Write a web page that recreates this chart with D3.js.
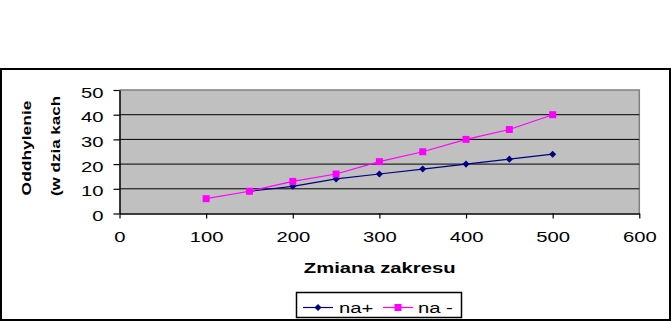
<!DOCTYPE html>
<html><head><meta charset="utf-8">
<script src="https://cdn.jsdelivr.net/npm/d3@7"></script>
<style>
html,body{margin:0;padding:0;background:#fff;}
svg{display:block;font-family:"Liberation Sans",Arial,sans-serif;}
</style></head>
<body><svg id="c" width="671" height="322"></svg>
<script>
const xTicks = [0,100,200,300,400,500,600];
const yTicks = [0,10,20,30,40,50];
const xPlus = [150,200,250,300,350,400,450,500];
const naPlus = [9,11,14,16,18,20,22,24];
const xMinus = [100,150,200,250,300,350,400,450,500];
const naMinus = [6,9,13,16,21,25,30,34,40];
const seriesNames = ["na+","na -"];
const xTitle = "Zmiana zakresu";
const yTitle = ["Oddhylenie","(w dzia kach"];

const svg = d3.select("#c");
const SX = 1.35;
const L=119.5, R=639.3, T=90, B=213.5;
const x = d3.scaleLinear().domain([0,600]).range([L,R]);
const y = d3.scaleLinear().domain([0,50]).range([B,T]);

// outer border
svg.append("rect").attr("x",1).attr("y",69).attr("width",669).attr("height",251)
  .attr("fill","#fff").attr("stroke","#000").attr("stroke-width",2);

// plot area
svg.append("rect").attr("x",L).attr("y",T).attr("width",R-L).attr("height",B-T)
  .attr("fill","#c0c0c0").attr("stroke","none");
svg.append("path").attr("d",`M${L},${T}H${R}V${B}`).attr("fill","none").attr("stroke","#808080").attr("stroke-width",1.5);

// gridlines
svg.append("g").selectAll("line").data(yTicks.filter(v=>v>0&&v<50)).join("line")
  .attr("x1",L).attr("x2",R).attr("y1",d=>y(d)).attr("y2",d=>y(d))
  .attr("stroke","#000").attr("stroke-width",1);

// axes
const ya = svg.append("g").attr("transform",`translate(${L},0)`)
  .call(d3.axisLeft(y).tickValues(yTicks).tickSize(6).tickSizeOuter(0));
ya.select(".domain").attr("stroke","#000").attr("stroke-width",1.5);
ya.selectAll(".tick line").attr("stroke","#000").attr("stroke-width",1.2);
ya.selectAll("text").attr("x",-16/SX).attr("dy",7).attr("transform",`scale(${SX},1)`)
  .attr("font-size",15).attr("fill","#000").attr("font-family","Liberation Sans, Arial, sans-serif");

const xa = svg.append("g").attr("transform",`translate(0,${B})`)
  .call(d3.axisBottom(x).tickValues(xTicks).tickSize(5).tickSizeOuter(0));
xa.select(".domain").attr("stroke","#000").attr("stroke-width",1.5);
xa.selectAll(".tick line").attr("stroke","#000").attr("stroke-width",1.2);
xa.selectAll("text").attr("y",29).attr("dy",0).attr("transform",`scale(${SX},1)`)
  .attr("font-size",15).attr("fill","#000").attr("font-family","Liberation Sans, Arial, sans-serif");

// lines
const line = d3.line().x(d=>x(d[0])).y(d=>y(d[1]));
const dPlus = xPlus.map((v,i)=>[v,naPlus[i]]);
const dMinus = xMinus.map((v,i)=>[v,naMinus[i]]);
svg.append("path").attr("d",line(dPlus)).attr("fill","none").attr("stroke","#000080").attr("stroke-width",1.2);
svg.append("path").attr("d",line(dMinus)).attr("fill","none").attr("stroke","#ff00ff").attr("stroke-width",1.2);

const diamond = d3.symbol(d3.symbolSquare, 25)();
const square = d3.symbol(d3.symbolSquare, 49)();
svg.append("g").selectAll("path").data(dPlus).join("path").attr("d",diamond)
  .attr("transform",d=>`translate(${x(d[0])},${y(d[1])}) rotate(45)`).attr("fill","#000080");
svg.append("g").selectAll("path").data(dMinus).join("path").attr("d",square)
  .attr("transform",d=>`translate(${x(d[0])},${y(d[1])})`).attr("fill","#ff00ff");

// x title
svg.append("text").attr("transform",`translate(379.7,272.7) scale(${SX},1)`)
  .attr("text-anchor","middle").attr("font-size",15).attr("font-weight","bold").text(xTitle);

// y title
svg.append("text").attr("transform",`translate(31,148) rotate(-90) scale(1.34,1)`)
  .attr("text-anchor","middle").attr("font-size",13).attr("font-weight","bold").text(yTitle[0]);
svg.append("text").attr("transform",`translate(59.5,146) rotate(-90) scale(1.31,1)`)
  .attr("text-anchor","middle").attr("font-size",13).attr("font-weight","bold").text(yTitle[1]);

// legend
svg.append("rect").attr("x",296.5).attr("y",292.5).attr("width",165).attr("height",25)
  .attr("fill","#fff").attr("stroke","#000").attr("stroke-width",1.5);
const ly = 307.5;
const leg = [{c:"#000080",m:diamond,r:45,x0:303,tx:339},{c:"#ff00ff",m:square,r:0,x0:383,tx:418}];
leg.forEach((o,i)=>{
  svg.append("line").attr("x1",o.x0).attr("x2",o.x0+30).attr("y1",ly).attr("y2",ly).attr("stroke",o.c).attr("stroke-width",1.2);
  svg.append("path").attr("d",o.m).attr("transform",`translate(${o.x0+15},${ly}) rotate(${o.r})`).attr("fill",o.c);
  svg.append("text").attr("transform",`translate(${o.tx},313) scale(${SX},1)`)
    .attr("font-size",15).text(seriesNames[i]);
});
</script></body></html>
